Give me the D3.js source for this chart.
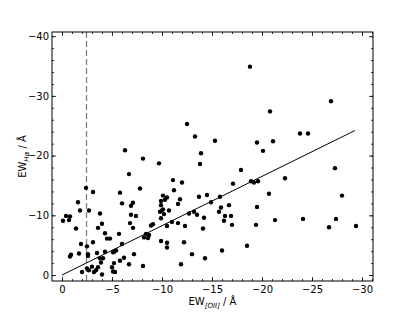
<!DOCTYPE html>
<html>
<head>
<meta charset="utf-8">
<script src="https://cdn.jsdelivr.net/npm/d3@7"></script>
<style>
  html, body { margin: 0; padding: 0; background: #fff; }
  svg { display: block; }
  text { font-family: "DejaVu Sans", sans-serif; }
</style>
</head>
<body>
<svg id="chart" width="415" height="312"></svg>
<script>
// EW[OII] values (x) and EW(Halpha) values (y), in Angstrom
const ewOII = [
  -6.3,-8.1,-9.7,-6.7,-2.4,-3.1,-7.8,-5.8,-1.6,-6.0,-7.1,-6.9,-9.9,-9.9,-1.8,-2.7,-9.8,-3.8,-6.9,-7.4,
  -0.4,-0.8,-0.1,-0.7,-9.9,-6.8,-4.0,-3.6,-1.4,-7.1,-4.3,-9.1,-8.9,-5.7,-8.4,-8.7,-8.2,-8.6,-4.5,-4.8,
  -9.9,-1.9,-6.0,-3.1,-2.5,-1.7,-4.3,-5.4,-5.2,-5.1,-3.5,-2.6,-2.6,-0.9,-0.8,-3.8,-4.1,-7.2,-6.2,-5.8,
  -3.9,-5.2,-6.7,-3.0,-8.1,-3.6,-5.0,-2.5,-5.1,-5.3,-2.0,-2.7,-3.2,-3.4,-4.0,
  -15.3,-19.5,-13.9,-20.1,-13.8,-17.9,-11.1,-12.0,-17.1,-18.9,-19.2,-19.6,-11.2,-20.7,-10.1,-10.5,-10.3,
  -11.8,-13.7,-14.5,-15.8,-14.9,-11.6,-16.7,-15.9,-19.5,-15.7,-10.0,-10.1,-10.2,-10.7,-13.2,-12.7,-13.5,
  -16.3,-16.9,-14.2,-16.2,-11.0,-11.6,-10.5,-12.3,-17.0,-19.4,-14.1,-10.5,-10.5,-12.2,-16.0,-18.5,-13.0,
  -14.3,-11.9,
  -21.1,-27.3,-22.3,-28.0,-21.3,-24.1,-26.7,-27.4,-29.4,
  -18.8,-26.9,-20.8,-12.5,-13.3,-23.8,-24.6
];
const ewHa = [
  -20.9,-19.5,-18.7,-16.9,-14.6,-13.9,-14.5,-13.8,-12.2,-12.0,-12.1,-11.6,-12.4,-11.7,-10.8,-10.8,-10.6,-10.3,-10.1,-9.9,
  -9.9,-9.8,-9.1,-9.2,-9.5,-8.7,-8.6,-7.9,-7.8,-7.9,-7.0,-8.5,-8.3,-6.9,-6.9,-6.7,-6.3,-6.2,-6.1,-6.1,
  -5.7,-5.2,-5.2,-5.5,-4.8,-3.6,-3.9,-4.1,-3.9,-3.8,-3.7,-3.5,-3.2,-3.4,-3.1,-2.8,-2.8,-3.5,-2.9,-2.4,
  -2.1,-2.0,-1.8,-1.4,-1.5,-1.3,-1.3,-1.1,-0.6,-0.5,-0.5,-0.8,-0.5,-0.8,-0.1,
  -22.5,-22.2,-20.4,-20.8,-18.6,-17.6,-15.9,-15.5,-15.3,-15.7,-15.5,-15.7,-14.2,-13.6,-13.3,-13.0,-12.6,
  -12.7,-13.1,-13.4,-13.1,-12.2,-11.9,-11.7,-11.3,-11.4,-10.6,-10.8,-11.0,-10.2,-10.8,-10.6,-10.3,-10.1,
  -9.9,-9.9,-9.6,-9.1,-8.9,-8.7,-8.2,-8.2,-8.4,-8.4,-7.8,-5.4,-4.6,-5.5,-4.1,-4.9,-3.5,
  -2.8,-1.8,
  -22.4,-17.9,-16.2,-13.3,-9.2,-9.4,-8.0,-9.4,-8.2,
  -34.9,-29.1,-27.4,-25.3,-23.2,-23.7,-23.7
];
const xTicks = [0, -5, -10, -15, -20, -25, -30];
const yTicks = [0, -10, -20, -30, -40];
const fitSlope = 0.826;          // EW(Ha) = slope * EW[OII]
const fitRange = [0, -29.3];
const cutX = -2.45;              // dashed vertical threshold

const svg = d3.select("#chart");
const L = 52, R = 373, T = 32, B = 281;
const x = d3.scaleLinear().domain([1, -31.1]).range([L, R]);
const y = d3.scaleLinear().domain([1, -40.7]).range([B, T]);

const xMinor = d3.range(0, -31.01, -1);
const yMinor = d3.range(0, -40.01, -2);

function styleAxis(g) {
  g.select(".domain").remove();
  g.selectAll("line").attr("stroke", "#000").attr("stroke-width", 0.8);
  g.selectAll("text").attr("font-family", "DejaVu Sans").attr("font-size", 10).attr("fill", "#000");
}

// bottom
svg.append("g").attr("transform", `translate(0,${B})`)
  .call(d3.axisBottom(x).tickValues(xMinor).tickFormat("").tickSize(-2)).call(styleAxis);
svg.append("g").attr("transform", `translate(0,${B})`)
  .call(d3.axisBottom(x).tickValues(xTicks).tickSize(-4).tickPadding(4.5)).call(styleAxis);
// top
svg.append("g").attr("transform", `translate(0,${T})`)
  .call(d3.axisTop(x).tickValues(xMinor).tickFormat("").tickSize(-2)).call(styleAxis);
svg.append("g").attr("transform", `translate(0,${T})`)
  .call(d3.axisTop(x).tickValues(xTicks).tickFormat("").tickSize(-4)).call(styleAxis);
// left
svg.append("g").attr("transform", `translate(${L},0)`)
  .call(d3.axisLeft(y).tickValues(yMinor).tickFormat("").tickSize(-2)).call(styleAxis);
svg.append("g").attr("transform", `translate(${L},0)`)
  .call(d3.axisLeft(y).tickValues(yTicks).tickSize(-4).tickPadding(3)).call(styleAxis);
// right
svg.append("g").attr("transform", `translate(${R},0)`)
  .call(d3.axisRight(y).tickValues(yMinor).tickFormat("").tickSize(-2)).call(styleAxis);
svg.append("g").attr("transform", `translate(${R},0)`)
  .call(d3.axisRight(y).tickValues(yTicks).tickFormat("").tickSize(-4)).call(styleAxis);

// dashed threshold
svg.append("line")
  .attr("x1", x(cutX)).attr("x2", x(cutX))
  .attr("y1", T).attr("y2", B)
  .attr("stroke", "#808080").attr("stroke-width", 1.3)
  .attr("stroke-dasharray", "6,3");

// fit line
svg.append("line")
  .attr("x1", x(fitRange[0])).attr("y1", y(fitRange[0] * fitSlope))
  .attr("x2", x(fitRange[1])).attr("y2", y(fitRange[1] * fitSlope))
  .attr("stroke", "#000").attr("stroke-width", 1);

// points
svg.append("g").selectAll("circle")
  .data(ewOII.map((v, i) => [v, ewHa[i]]))
  .join("circle")
  .attr("cx", d => x(d[0])).attr("cy", d => y(d[1]))
  .attr("r", 2.2).attr("fill", "#000");

// frame
svg.append("rect").attr("x", L).attr("y", T).attr("width", R - L).attr("height", B - T)
  .attr("fill", "none").attr("stroke", "#000").attr("stroke-width", 1);

// x label
const xl = svg.append("text").attr("x", (L + R) / 2).attr("y", 305)
  .attr("text-anchor", "middle").attr("font-size", 10);
xl.append("tspan").text("EW");
xl.append("tspan").attr("font-size", 7).attr("font-style", "italic").attr("dy", 2.5).text("[OII]");
xl.append("tspan").attr("dy", -2.5).text(" / Å");

// y label
const yl = svg.append("text")
  .attr("transform", `translate(26,${(T + B) / 2}) rotate(-90)`)
  .attr("text-anchor", "middle").attr("font-size", 10);
yl.append("tspan").text("EW");
yl.append("tspan").attr("font-size", 7).attr("font-style", "italic").attr("dy", 2.5).text("Hα");
yl.append("tspan").attr("dy", -2.5).text(" / Å");
</script>
</body>
</html>
